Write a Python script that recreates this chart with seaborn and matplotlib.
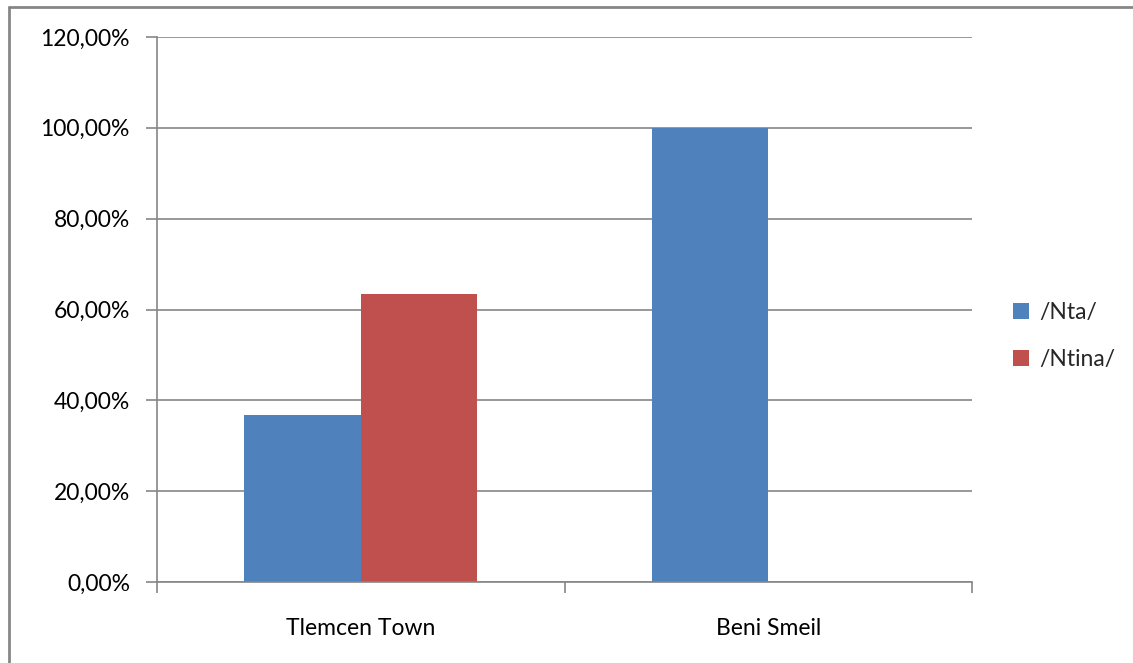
import matplotlib
matplotlib.use("Agg")
import matplotlib.pyplot as plt
from matplotlib.lines import Line2D
from matplotlib.ticker import FixedLocator, FuncFormatter
import seaborn as sns
import pandas as pd

# Share of each form per locality
localities = ["Tlemcen Town", "Beni Smeil"]
forms = ["/Nta/", "/Ntina/"]
nta_share = [0.3667, 1.0]
ntina_share = [0.6333, 0.0]

df = pd.DataFrame({
    "locality": localities * 2,
    "form": [forms[0]] * 2 + [forms[1]] * 2,
    "share": nta_share + ntina_share,
})

sns.set_theme(style="white")
plt.rcParams["font.family"] = ["Lato", "DejaVu Sans"]
FS = 16.5

fig = plt.figure(figsize=(11.33, 6.63), dpi=100)
ax = fig.add_axes([157 / 1133, 1 - 582 / 663, (972 - 157) / 1133, (582 - 37) / 663])

sns.barplot(
    data=df, x="locality", y="share", hue="form",
    palette=["#4F81BD", "#C0504D"], width=0.572, saturation=1,
    linewidth=0, ax=ax, legend=True,
)

grid_col = "#868686"
ax.set_xlim(-0.5, 1.5)
ax.set_ylim(0, 1.2)
ax.yaxis.set_major_locator(FixedLocator([0, 0.2, 0.4, 0.6, 0.8, 1.0, 1.2]))
ax.yaxis.set_major_formatter(FuncFormatter(lambda v, _: f"{v * 100:.2f}%".replace(".", ",")))
ax.grid(axis="y", color=grid_col, linewidth=1.2)
ax.set_axisbelow(True)
ax.set_xlabel("")
ax.set_ylabel("")

for side in ["top", "right"]:
    ax.spines[side].set_visible(False)
for side in ["left", "bottom"]:
    ax.spines[side].set_color(grid_col)
    ax.spines[side].set_linewidth(1.2)

# category boundary ticks on x, outward ticks on y
ax.set_xticks([0, 1])
ax.set_xticks([-0.5, 0.5, 1.5], minor=True)
ax.tick_params(axis="x", which="major", length=0, pad=26, labelsize=FS, labelcolor="black")
ax.tick_params(axis="x", which="minor", bottom=True, length=8, width=1.2, color=grid_col)
ax.tick_params(axis="y", left=True, length=8, width=1.2, color=grid_col, pad=11.5,
               labelsize=FS, labelcolor="black")

leg = ax.legend(
    loc="center left", bbox_to_anchor=(1013 / 1133, 1 - 336 / 663),
    bbox_transform=fig.transFigure, frameon=False, fontsize=FS,
    handlelength=0.7, handleheight=0.7, handletextpad=0.45, labelspacing=1.15,
    borderaxespad=0, borderpad=0,
)

# chart-area border
fig.add_artist(Line2D([9 / 1133, 9 / 1133], [0, 1 - 7 / 663], transform=fig.transFigure,
                      color="#868686", linewidth=2))
fig.add_artist(Line2D([9 / 1133, 1], [1 - 7 / 663, 1 - 7 / 663], transform=fig.transFigure,
                      color="#868686", linewidth=2))

fig.savefig("out.png", dpi=100)
